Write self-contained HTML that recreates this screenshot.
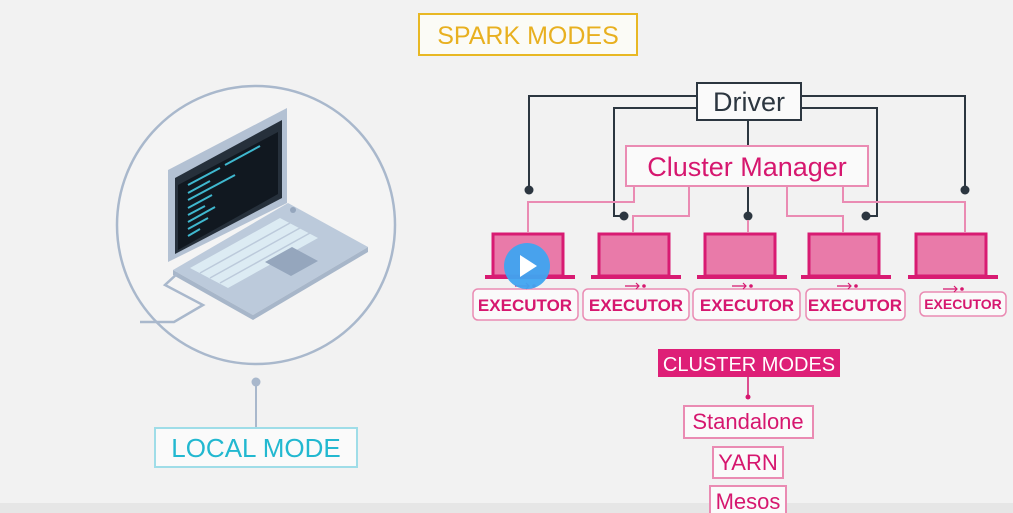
<!DOCTYPE html>
<html><head><meta charset="utf-8"><style>
html,body{margin:0;padding:0;background:#f2f2f2;}
svg{display:block;font-family:"Liberation Sans","DejaVu Sans",sans-serif;}
</style></head><body>
<svg width="1013" height="513" viewBox="0 0 1013 513" xmlns="http://www.w3.org/2000/svg">
<rect width="1013" height="513" fill="#f2f2f2"/>
<rect y="503" width="1013" height="10" fill="#e6e6e6"/>
<rect x="419" y="14" width="218" height="41" fill="#fbfbf6" stroke="#e8b824" stroke-width="2"/>
<text x="528" y="44" font-size="25" fill="#e8b020" text-anchor="middle">SPARK MODES</text>

<circle cx="256" cy="225" r="139" fill="#f4f4f4" stroke="#a9b8cc" stroke-width="2.5"/>
<polygon points="173,270 288,203 368,247 253,315" fill="#bccadb"/>
<polygon points="173,270 253,315 253,320 173,275" fill="#a7b6c9"/>
<polygon points="253,315 368,247 368,252 253,320" fill="#a7b6c9"/>
<polygon points="168,170 287,108 287,203 168,262" fill="#b3c1d3"/>
<polygon points="175,178 282,120 282,198 175,254" fill="#26303b"/>
<polygon points="178,185 278,132 278,194 178,250" fill="#111820"/>
<g stroke="#3fb8cf" stroke-width="2">
<line x1="188" y1="185" x2="220" y2="168"/><line x1="225" y1="165" x2="260" y2="146"/>
<line x1="188" y1="193" x2="210" y2="181"/><line x1="188" y1="200" x2="235" y2="175"/>
<line x1="188" y1="208" x2="212" y2="195"/><line x1="188" y1="215" x2="205" y2="206"/>
<line x1="188" y1="222" x2="215" y2="207"/><line x1="188" y1="229" x2="208" y2="218"/>
<line x1="188" y1="236" x2="200" y2="229"/>
</g>
<polygon points="190,268 280,218 318,238 228,288" fill="#dcebf3"/>
<g stroke="#bccadb" stroke-width="1.5">
<line x1="200" y1="273" x2="290" y2="223"/><line x1="210" y1="278" x2="300" y2="228"/><line x1="220" y1="283" x2="310" y2="233"/>
</g>
<polygon points="265,262 292,247 318,261 291,276" fill="#95a6bd"/>
<circle cx="293" cy="210" r="3" fill="#95a6bd"/>
<polyline points="178,273 165,285 203,305 174,322 140,322" fill="none" stroke="#a9b8cc" stroke-width="2.5"/>
<circle cx="256" cy="382" r="4.5" fill="#a9b8cc"/>
<line x1="256" y1="382" x2="256" y2="428" stroke="#a9b8cc" stroke-width="2"/>
<rect x="155" y="428" width="202" height="39" fill="#fafafa" stroke="#9fdde8" stroke-width="2"/>
<text x="256" y="457" font-size="26" fill="#22b8d0" text-anchor="middle">LOCAL MODE</text>

<g fill="none" stroke="#2c3640" stroke-width="2">
<polyline points="697,96 529,96 529,190"/>
<polyline points="697,108 614,108 614,216 624,216"/>
<polyline points="801,96 965,96 965,190"/>
<polyline points="801,108 877,108 877,216 866,216"/>
<line x1="748" y1="120" x2="748" y2="146"/>
<line x1="748" y1="186" x2="748" y2="216"/>
</g>
<g fill="#2c3640">
<circle cx="529" cy="190" r="4.5"/><circle cx="624" cy="216" r="4.5"/><circle cx="748" cy="216" r="4.5"/><circle cx="866" cy="216" r="4.5"/><circle cx="965" cy="190" r="4.5"/>
</g>
<g fill="none" stroke="#ea8bb3" stroke-width="2">
<polyline points="634,186 634,202 528,202 528,232"/>
<polyline points="689,186 689,216 633,216 633,232"/>
<polyline points="748,220 748,232"/>
<polyline points="787,186 787,216 843,216 843,232"/>
<polyline points="843,186 843,202 965,202 965,232"/>
</g>
<rect x="697" y="83" width="104" height="37" fill="#fafafa" stroke="#2c3640" stroke-width="2"/>
<text x="749" y="111" font-size="27" fill="#2c3640" text-anchor="middle">Driver</text>
<rect x="626" y="146" width="242" height="40" fill="#fafafa" stroke="#ea8bb3" stroke-width="2"/>
<text x="747" y="176" font-size="27" fill="#d6176f" text-anchor="middle">Cluster Manager</text>

<g id="ex">
<rect x="493" y="234" width="70" height="42" fill="#e97aa9" stroke="#d81b72" stroke-width="3"/>
<rect x="485" y="275" width="90" height="4" fill="#d81b72"/>
</g>
<use href="#ex" x="106"/><use href="#ex" x="212"/><use href="#ex" x="316"/><use href="#ex" x="423"/>
<g fill="#fafafa" stroke="#ea8bb3" stroke-width="1.5">
<rect x="473" y="289" width="105" height="31" rx="5"/>
<rect x="583" y="289" width="106" height="31" rx="5"/>
<rect x="693" y="289" width="107" height="31" rx="5"/>
<rect x="806" y="289" width="99" height="31" rx="5"/>
<rect x="920" y="292" width="86" height="24" rx="5"/>
</g>
<g font-size="17" font-weight="bold" fill="#d6176f" text-anchor="middle">
<text x="525" y="311">EXECUTOR</text>
<text x="636" y="311">EXECUTOR</text>
<text x="747" y="311">EXECUTOR</text>
<text x="855" y="311">EXECUTOR</text>
<text x="963" y="309" font-size="14">EXECUTOR</text>
</g>
<g fill="none" stroke="#d6176f" stroke-width="1.2">
<path d="M515,286h14m-3,-3l3,3l-3,3"/><path d="M625,286h14m-3,-3l3,3l-3,3"/><path d="M732,286h14m-3,-3l3,3l-3,3"/><path d="M837,286h14m-3,-3l3,3l-3,3"/><path d="M943,289h14m-3,-3l3,3l-3,3"/>
</g>
<g fill="#d6176f"><circle cx="534" cy="286" r="1.8"/><circle cx="644" cy="286" r="1.8"/><circle cx="751" cy="286" r="1.8"/><circle cx="856" cy="286" r="1.8"/><circle cx="962" cy="289" r="1.8"/></g>
<circle cx="527" cy="266" r="23" fill="#3fa4f0" opacity="0.95"/>
<polygon points="520,255 520,277 537,266" fill="#fff"/>

<rect x="658" y="349" width="182" height="28" fill="#de1f77"/>
<text x="749" y="371" font-size="20" fill="#fff" text-anchor="middle">CLUSTER MODES</text>
<line x1="748" y1="377" x2="748" y2="397" stroke="#d6176f" stroke-width="1.5"/>
<circle cx="748" cy="397" r="2.5" fill="#d6176f"/>
<g fill="#fafafa" stroke="#ea8bb3" stroke-width="2">
<rect x="684" y="406" width="129" height="32"/>
<rect x="713" y="447" width="70" height="31"/>
<rect x="710" y="486" width="76" height="30"/>
</g>
<g font-size="22" fill="#d6176f" text-anchor="middle">
<text x="748" y="429">Standalone</text>
<text x="748" y="470">YARN</text>
<text x="748" y="509">Mesos</text>
</g>
</svg>
</body></html>
